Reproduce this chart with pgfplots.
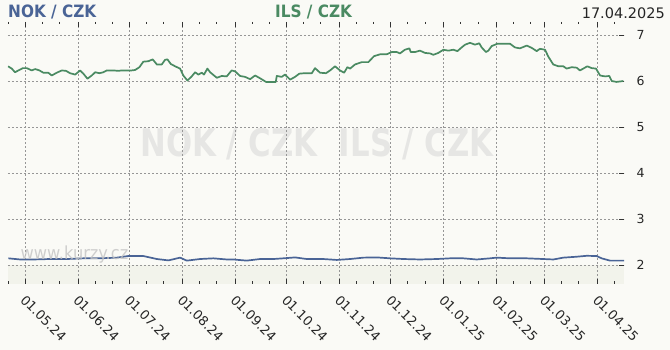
\documentclass[border=0pt]{standalone}
\usepackage{fontspec}
\setmainfont{DejaVu Sans}
\newfontfamily\condfont{DejaVu Sans}[FakeStretch=0.9]
\newfontfamily\wmfont{DejaVu Sans}[FakeStretch=0.81]
\usepackage{pgfplots}
\pgfplotsset{compat=1.18}
\definecolor{bg}{RGB}{250,250,246}
\definecolor{band}{RGB}{242,243,235}
\definecolor{nokc}{RGB}{74,100,150}
\definecolor{ilsc}{RGB}{74,138,98}
\definecolor{gridc}{RGB}{150,150,150}
\definecolor{wm}{RGB}{230,230,228}
\definecolor{wm2}{RGB}{195,195,195}
\begin{document}
\begin{tikzpicture}[x=1pt,y=1pt]
\fill[bg] (0,0) rectangle (670,350);
\fill[band] (8,66) rectangle (624,85);
\node[anchor=center, inner sep=0, text=wm, font=\wmfont\bfseries\fontsize{38}{38}\selectfont] at (317,206) {NOK / CZK\ \ ILS / CZK};
\begin{axis}[
  at={(8pt,66pt)}, anchor=south west, scale only axis,
  width=616pt, height=262pt,
  xmin=-10, xmax=350.5, ymin=1.587, ymax=7.283,
  axis line style={draw=none},
  xtick={0,31,61,92,123,153,184,214,245,276,304,335},
  xticklabels={01.05.24,01.06.24,01.07.24,01.08.24,01.09.24,01.10.24,01.11.24,01.12.24,01.01.25,01.02.25,01.03.25,01.04.25},
  minor xtick={-10,10,20,41,51,71,81,102,112,133,143,163,173,194,204,224,234,255,265,286,296,314,324,345},
  xtick pos=both, tick align=inside,
  major tick length=5pt, minor tick length=2.5pt,
  tick style={black!80, line width=0.8pt},
  ytick={2,3,4,5,6,7}, yticklabels={2,3,4,5,6,7},
  ytick pos=right, yticklabel pos=right,
  grid=major,
  major grid style={gridc, line width=0.7pt, dash pattern=on 2pt off 2pt},
  xticklabel style={rotate=-45, anchor=north west, inner sep=1pt, font=\fontsize{13}{13}\selectfont, text=black!85, xshift=7pt, yshift=-5pt},
  yticklabel style={font=\fontsize{12.5}{12.5}\selectfont, text=black!85, xshift=9pt},
]
\addplot[color=ilsc, line width=1.7pt, line join=round] coordinates {
(-10,6.32) (-7.8,6.27) (-5.9,6.19) (-3.9,6.23) (-1.3,6.28) (1.0,6.28) (3.9,6.23) (5.9,6.26) (8.4,6.23) (10.7,6.18) (13.6,6.18) (15.6,6.12) (18.5,6.18) (21.5,6.23) (24.0,6.22) (26.3,6.17) (29.3,6.14) (32.2,6.23) (34.1,6.16) (36.5,6.05) (39.0,6.12) (41.0,6.19) (43.5,6.17) (45.8,6.19) (47.8,6.23) (51.7,6.23) (54.6,6.22) (56.6,6.23) (59.5,6.23) (62.4,6.23) (64.4,6.24) (66.9,6.30) (69.2,6.42) (72.1,6.43) (74.7,6.47) (77.1,6.36) (80.0,6.36) (81.9,6.46) (83.3,6.47) (85.3,6.37) (87.8,6.32) (90.7,6.27) (92.6,6.12) (95.0,6.01) (97.5,6.10) (99.5,6.19) (101.4,6.14) (103.4,6.18) (104.7,6.14) (106.7,6.27) (108.3,6.19) (112.2,6.07) (115.1,6.11) (118.0,6.10) (120.9,6.23) (122.9,6.21) (125.8,6.11) (128.7,6.09) (131.7,6.04) (134.6,6.12) (137.5,6.06) (141.0,5.98) (143.4,5.98) (146.7,5.98) (147.3,6.11) (150.2,6.09) (152.1,6.14) (155.1,6.03) (158.0,6.09) (160.5,6.16) (163.8,6.17) (167.8,6.17) (169.7,6.28) (172.6,6.18) (176.1,6.17) (178.5,6.23) (181.4,6.32) (184.3,6.23) (186.7,6.18) (188.6,6.30) (190.2,6.27) (193.1,6.36) (197.0,6.41) (200.9,6.41) (204.2,6.54) (207.7,6.58) (211.6,6.58) (214.6,6.63) (217.5,6.63) (219.4,6.60) (222.3,6.68) (224.9,6.71) (225.7,6.63) (228.2,6.63) (231.1,6.66) (234.1,6.61) (237.0,6.60) (238.9,6.57) (241.8,6.61) (244.8,6.68) (247.7,6.66) (250.6,6.68) (253.0,6.65) (255.5,6.73) (257.5,6.79) (260.4,6.83) (263.3,6.79) (265.8,6.82) (267.2,6.73) (269.7,6.63) (271.1,6.66) (273.1,6.76) (276.4,6.81) (279.9,6.81) (283.8,6.81) (286.7,6.73) (289.6,6.71) (293.6,6.77) (296.5,6.72) (299.4,6.65) (301.3,6.70) (304.3,6.68) (306.2,6.53) (309.1,6.36) (312.1,6.32) (315.0,6.32) (316.9,6.27) (319.9,6.30) (322.8,6.29) (324.7,6.23) (326.7,6.27) (329.0,6.32) (331.6,6.28) (334.1,6.27) (336.5,6.12) (339.4,6.10) (341.9,6.11) (343.3,6.00) (346.2,5.98) (350.1,6.00)
};
\addplot[color=nokc, line width=1.7pt, line join=round] coordinates {
(-9.8,2.145) (-2.9,2.12) (4.9,2.12) (14.6,2.13) (24.4,2.13) (34.1,2.145) (43.9,2.145) (53.7,2.16) (60.4,2.195) (69.2,2.195) (77.1,2.13) (83.9,2.10) (90.7,2.16) (94.6,2.095) (102.4,2.13) (110.2,2.145) (118.0,2.12) (121.9,2.12) (129.7,2.095) (137.5,2.13) (145.3,2.13) (151.1,2.145) (158.0,2.165) (164.8,2.13) (171.6,2.13) (174.5,2.13) (182.4,2.11) (190.2,2.13) (198.0,2.16) (205.8,2.165) (213.6,2.145) (221.4,2.13) (231.1,2.12) (240.9,2.13) (248.7,2.145) (256.5,2.145) (264.3,2.12) (272.1,2.145) (276.0,2.16) (283.8,2.145) (293.6,2.145) (303.3,2.13) (309.1,2.12) (315.0,2.16) (322.8,2.18) (328.7,2.20) (334.5,2.195) (337.4,2.145) (342.3,2.095) (346.2,2.095) (350.5,2.095)
};
\end{axis}
\node[anchor=base west, inner sep=0, text=nokc, font=\condfont\bfseries\fontsize{17}{17}\selectfont] at (8,332.7) {NOK / CZK};
\node[anchor=base west, inner sep=0, text=ilsc, font=\condfont\bfseries\fontsize{17}{17}\selectfont] at (275,332.7) {ILS / CZK};
\node[anchor=base east, inner sep=0, text=black!85, font=\fontsize{14.5}{14.5}\selectfont] at (665,331.7) {17.04.2025};
\node[anchor=base west, inner sep=0, text=wm2, opacity=0.8, font=\condfont\fontsize{18}{18}\selectfont] at (20.5,90) {www.kurzy.cz};
\end{tikzpicture}
\end{document}
